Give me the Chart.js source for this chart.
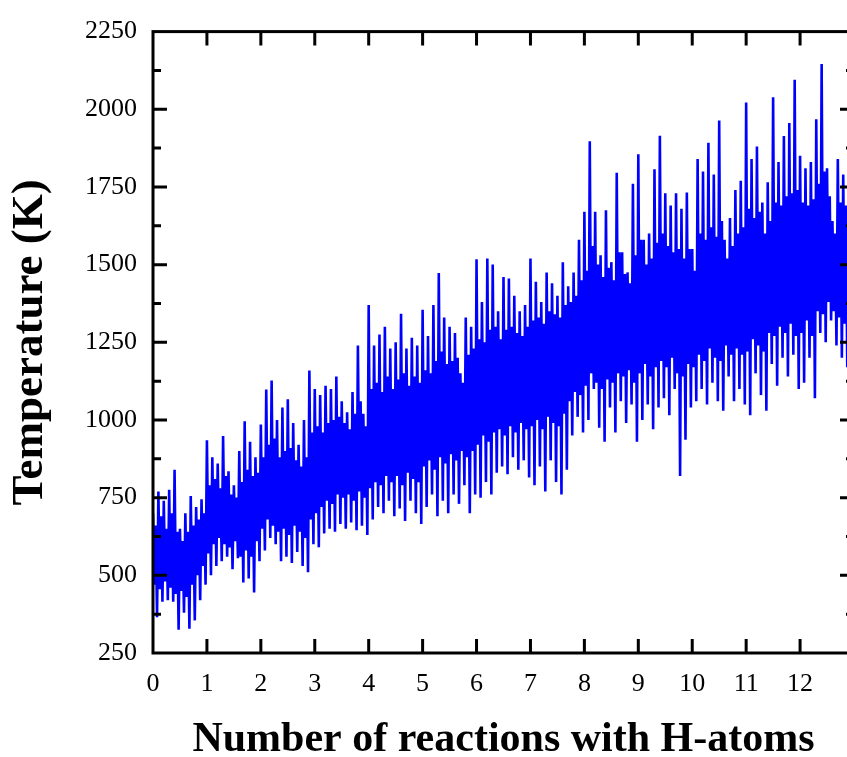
<!DOCTYPE html>
<html>
<head>
<meta charset="utf-8">
<title>Temperature vs number of reactions with H-atoms</title>
<script src="https://cdn.jsdelivr.net/npm/chart.js@4"></script>
<style>
  html, body { margin: 0; padding: 0; background: #fff; overflow: hidden; }
  #wrap { width: 870px; height: 770px; }
</style>
</head>
<body>
<div id="wrap"><canvas id="tempChart" width="870" height="770"></canvas></div>
<script>
// sample spacing along the x axis (reactions)
const STEP = 0.025;

const xTicks = [0, 1, 2, 3, 4, 5, 6, 7, 8, 9, 10, 11, 12];
const yTicks = [250, 500, 750, 1000, 1250, 1500, 1750, 2000, 2250];

// temperature (K), one row per reaction unit
const temperature = [
  700, 470, 660, 365, 770, 455, 690, 415, 740, 480, 650, 420, 775, 460, 700, 415, 840, 440, 640, 325,
  650, 450, 610, 380, 700, 430, 640, 328, 755, 470, 660, 355, 720, 500, 680, 420, 745, 530, 700, 470,
  935, 570, 790, 500, 880, 600, 810, 530, 860, 620, 780, 545, 948, 600, 820, 560, 835, 590, 760, 520,
  790, 610, 750, 555, 900, 560, 800, 477, 996, 580, 840, 490, 930, 560, 820, 445, 880, 610, 830, 545,
  985, 650, 880, 580, 1098, 680, 920, 620, 1127, 660, 940, 600, 1000, 640, 880, 545, 1040, 650, 900, 560,
  1067, 630, 910, 540, 990, 660, 870, 575, 920, 640, 850, 530, 1000, 620, 880, 510, 1159, 680, 960, 600,
  1100, 700, 980, 590, 1080, 720, 960, 635, 1110, 740, 990, 650, 1100, 730, 1000, 640, 1140, 760, 1010, 665,
  1060, 750, 990, 650, 1025, 760, 970, 670, 1090, 740, 1020, 645, 1240, 770, 1060, 660, 1020, 750, 980, 630,
  1370, 780, 1100, 680, 1240, 800, 1120, 720, 1275, 790, 1090, 700, 1300, 820, 1140, 740, 1230, 800, 1100, 690,
  1250, 820, 1130, 715, 1342, 790, 1150, 675, 1230, 830, 1110, 740, 1265, 810, 1140, 700, 1240, 800, 1120, 665,
  1355, 850, 1160, 720, 1270, 870, 1150, 760, 1370, 840, 1190, 690, 1473, 880, 1220, 740, 1330, 860, 1180, 700,
  1300, 890, 1190, 760, 1280, 870, 1200, 730, 1150, 900, 1120, 790, 1330, 880, 1210, 700, 1300, 900, 1230, 760,
  1517, 920, 1260, 750, 1380, 950, 1250, 800, 1520, 930, 1290, 760, 1500, 960, 1300, 830, 1350, 970, 1260, 850,
  1460, 950, 1290, 825, 1455, 980, 1300, 880, 1400, 960, 1280, 840, 1350, 990, 1270, 870, 1370, 970, 1300, 815,
  1520, 980, 1320, 790, 1445, 1000, 1330, 850, 1380, 970, 1310, 770, 1475, 1010, 1350, 870, 1440, 990, 1340, 800,
  1400, 980, 1330, 760, 1508, 1020, 1370, 840, 1430, 1060, 1380, 950, 1475, 1090, 1400, 1010, 1580, 1080, 1450, 960,
  1670, 1110, 1480, 1000, 1897, 1150, 1560, 1100, 1670, 1120, 1500, 975, 1530, 1100, 1460, 930, 1675, 1130, 1490, 1040,
  1508, 1120, 1450, 960, 1796, 1150, 1540, 1060, 1540, 1140, 1470, 990, 1475, 1160, 1440, 1050, 1760, 1120, 1530, 930,
  1855, 1150, 1580, 1000, 1580, 1180, 1500, 1050, 1600, 1140, 1520, 970, 1807, 1170, 1570, 1040, 1915, 1190, 1600, 1070,
  1730, 1170, 1560, 1015, 1690, 1200, 1540, 1100, 1730, 1150, 1550, 820, 1680, 1140, 1520, 936, 1732, 1180, 1550, 1040,
  1550, 1170, 1480, 1060, 1840, 1210, 1600, 1100, 1800, 1190, 1580, 1050, 1892, 1230, 1620, 1120, 1790, 1200, 1590, 1060,
  1964, 1190, 1640, 1030, 1580, 1240, 1520, 1140, 1650, 1210, 1560, 1060, 1740, 1230, 1600, 1100, 1770, 1210, 1620, 1050,
  2022, 1220, 1680, 1015, 1840, 1260, 1650, 1150, 1880, 1240, 1670, 1080, 1700, 1220, 1600, 1030, 1765, 1280, 1640, 1180,
  2039, 1270, 1700, 1110, 1830, 1300, 1690, 1200, 1914, 1280, 1720, 1140, 1956, 1310, 1730, 1210, 2095, 1270, 1740, 1100,
  1850, 1280, 1700, 1120, 1810, 1320, 1690, 1200, 1830, 1270, 1710, 1070, 1968, 1350, 1760, 1280, 2146, 1340, 1800, 1250,
  1810, 1380, 1720, 1320, 1640, 1350, 1600, 1240, 1840, 1330, 1700, 1200, 1790, 1310, 1690, 1170, 1820, 1280, 1680, 1050
];

const SERIF = "'Liberation Serif', 'Times New Roman', serif";
const MAJOR = 14;
const MINOR = 8;

// frame + inward ticks on all four sides, like the origin style plot
const framePlugin = {
  id: 'frame',
  afterDatasetsDraw(chart) {
    const { ctx, chartArea: a, scales: { x, y } } = chart;
    ctx.save();
    ctx.strokeStyle = '#000';
    ctx.lineWidth = 3;
    ctx.lineCap = 'butt';
    ctx.beginPath();
    xTicks.slice(1).forEach(v => {
      const px = x.getPixelForValue(v);
      ctx.moveTo(px, a.bottom); ctx.lineTo(px, a.bottom - MAJOR);
      ctx.moveTo(px, a.top); ctx.lineTo(px, a.top + MAJOR);
    });
    yTicks.slice(1, -1).forEach(v => {
      const py = y.getPixelForValue(v);
      ctx.moveTo(a.left, py); ctx.lineTo(a.left + MAJOR, py);
      ctx.moveTo(a.right, py); ctx.lineTo(a.right - MAJOR, py);
    });
    yTicks.slice(0, -1).forEach(v => {
      const py = y.getPixelForValue(v + 125);
      ctx.moveTo(a.left, py); ctx.lineTo(a.left + MINOR, py);
      ctx.moveTo(a.right, py); ctx.lineTo(a.right - MINOR, py);
    });
    ctx.stroke();
    ctx.strokeRect(a.left, a.top, a.right - a.left, a.bottom - a.top);
    ctx.restore();
  }
};

Chart.defaults.color = '#000';

new Chart(document.getElementById('tempChart'), {
  type: 'line',
  data: {
    datasets: [{
      data: temperature.map((t, i) => ({ x: i * STEP, y: t })),
      borderColor: '#0000ff',
      borderWidth: 2.6,
      pointRadius: 0,
      tension: 0
    }]
  },
  options: {
    responsive: false,
    animation: false,
    layout: { padding: { left: 0, top: 28, right: 16, bottom: 0 } },
    plugins: { legend: { display: false }, tooltip: { enabled: false } },
    scales: {
      x: {
        type: 'linear',
        min: 0,
        max: 13,
        afterBuildTicks: s => { s.ticks = xTicks.map(v => ({ value: v })); },
        afterFit: s => { s.height = 117; },
        grid: { display: false, drawTicks: false },
        border: { display: false },
        ticks: { font: { family: SERIF, size: 26 }, padding: 16, maxRotation: 0, autoSkip: false,
                 callback: v => String(v) },
        title: {
          display: true,
          text: 'Number of reactions with H-atoms',
          font: { family: SERIF, size: 42, weight: 'bold' },
          padding: { top: 0, bottom: 5 }
        }
      },
      y: {
        min: 250,
        max: 2250,
        afterBuildTicks: s => { s.ticks = yTicks.map(v => ({ value: v })); },
        afterFit: s => { s.width = 153; },
        grid: { display: false, drawTicks: false },
        border: { display: false },
        ticks: { font: { family: SERIF, size: 26 }, padding: 16, callback: v => String(v) },
        title: {
          display: true,
          text: 'Temperature (K)',
          font: { family: SERIF, size: 45, weight: 'bold' },
          padding: { top: 3, bottom: 0 }
        }
      }
    }
  },
  plugins: [framePlugin]
});
</script>
</body>
</html>
